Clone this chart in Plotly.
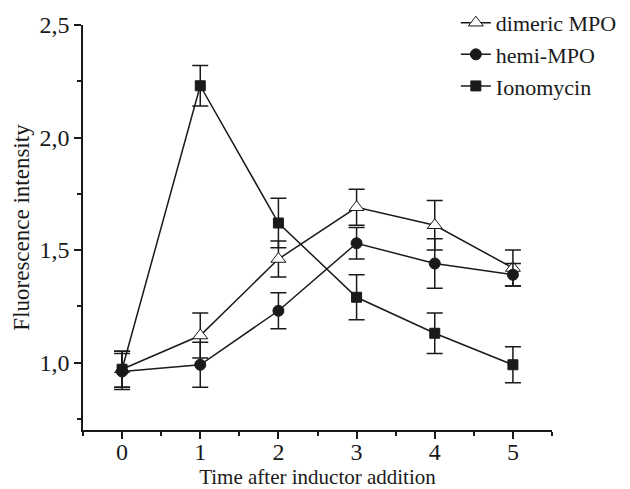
import plotly.graph_objects as go

time = [0, 1, 2, 3, 4, 5]
dimeric = [0.97, 1.12, 1.46, 1.69, 1.61, 1.42]
dimeric_err = [0.08, 0.10, 0.08, 0.08, 0.11, 0.08]
hemi = [0.96, 0.99, 1.23, 1.53, 1.44, 1.39]
hemi_err = [0.08, 0.10, 0.08, 0.07, 0.11, 0.05]
iono = [0.97, 2.23, 1.62, 1.29, 1.13, 0.99]
iono_err = [0.08, 0.09, 0.11, 0.10, 0.09, 0.08]
ytick_vals = [1.0, 1.5, 2.0, 2.5]
ytick_text = ["1,0", "1,5", "2,0", "2,5"]

FONT = "Liberation Serif"
BLACK = "#1a1a1a"

fig = go.Figure()

def add(name, y, err, symbol, fill, size):
    fig.add_trace(go.Scatter(
        x=time, y=y, name=name, mode="lines+markers",
        line=dict(color=BLACK, width=1.5),
        marker=dict(symbol=symbol, size=size, color=fill,
                    line=dict(color=BLACK, width=1)),
        error_y=dict(type="data", array=err, visible=True,
                     color=BLACK, thickness=1.5, width=8),
    ))

add("dimeric MPO", dimeric, dimeric_err, "triangle-up", "white", 13)
add("hemi-MPO", hemi, hemi_err, "circle", BLACK, 11)
add("Ionomycin", iono, iono_err, "square", BLACK, 10)

fig.update_layout(
    width=630, height=489,
    margin=dict(l=75, r=86, t=17, b=67, autoexpand=False),
    paper_bgcolor="white", plot_bgcolor="white",
    font=dict(family=FONT, size=22, color=BLACK),
    showlegend=True,
    legend=dict(x=0.795, y=1.057, xanchor="left", yanchor="top",
                bgcolor="rgba(0,0,0,0)", font=dict(size=22, family=FONT),
                tracegroupgap=0),
    xaxis=dict(
        range=[-0.5, 5.5], tickvals=time, showgrid=False, zeroline=False,
        showline=True, linecolor=BLACK, linewidth=1.5,
        ticks="outside", ticklen=7, tickwidth=1.5, tickcolor=BLACK,
        ticklabelstandoff=-8,
        minor=dict(dtick=0.5, tick0=0.5, ticks="outside", ticklen=4, tickwidth=1.5, tickcolor=BLACK),
        title=dict(text="Time after inductor addition", standoff=0,
                   font=dict(size=21, family=FONT)),
        tickfont=dict(size=24, family=FONT),
    ),
    yaxis=dict(
        range=[0.70, 2.5], tickvals=ytick_vals, ticktext=ytick_text,
        showgrid=False, zeroline=False,
        showline=True, linecolor=BLACK, linewidth=1.5,
        ticks="outside", ticklen=7, tickwidth=1.5, tickcolor=BLACK,
        minor=dict(dtick=0.5, tick0=0.75, ticks="outside", ticklen=4, tickwidth=1.5, tickcolor=BLACK),
        title=dict(text="Fluorescence intensity", standoff=3,
                   font=dict(size=23, family=FONT)),
        tickfont=dict(size=24, family=FONT),
    ),
)

fig.write_html("out.html")
